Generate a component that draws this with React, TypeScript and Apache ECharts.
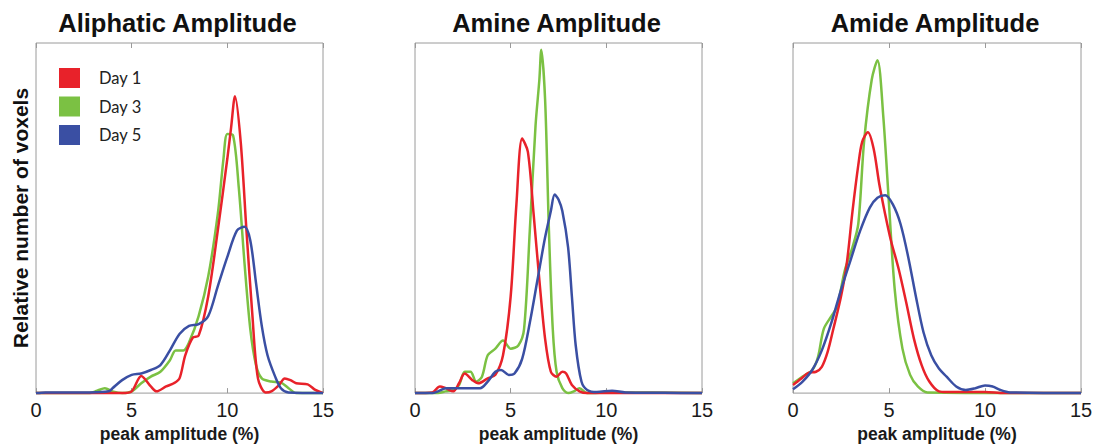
import React, { useEffect, useRef } from "react";
import * as echarts from "echarts";

// ---------- data ----------
const panelTitles = ["Aliphatic Amplitude", "Amine Amplitude", "Amide Amplitude"];
const seriesNames = ["Day 1", "Day 3", "Day 5"];
const seriesColors = ["#e8222a", "#7bc143", "#3a4fa3"];
const xMin = 0;
const xMax = 15;
const xInterval = 5;
const xAxisTitle = "peak amplitude (%)";
const yAxisTitle = "Relative number of voxels";

// Aliphatic
const aliphaticDay1 = [[0,0],[4.5,0],[5.0,0.005],[5.5,0.049],[6.0,0.019],[6.3,0.005],[6.8,0.019],[7.2,0.028],[7.5,0.042],[7.8,0.108],[8.2,0.159],[8.5,0.164],[9.0,0.276],[9.5,0.464],[10.0,0.67],[10.2,0.76],[10.4,0.848],[10.7,0.717],[11.0,0.464],[11.3,0.23],[11.6,0.042],[12.0,0.002],[12.3,0.005],[12.7,0.023],[13.0,0.042],[13.3,0.037],[13.6,0.028],[14.2,0.025],[14.6,0.009],[15,0]];
const aliphaticDay3 = [[0,0],[2.8,0],[3.2,0.007],[3.6,0.014],[4.0,0.005],[4.5,0],[5.0,0.005],[5.5,0.028],[6.0,0.047],[6.5,0.061],[7.0,0.094],[7.3,0.122],[7.7,0.122],[8.0,0.145],[8.5,0.22],[9.0,0.333],[9.5,0.511],[9.8,0.67],[10.0,0.74],[10.3,0.736],[10.6,0.586],[10.9,0.37],[11.2,0.183],[11.5,0.08],[11.8,0.042],[12.3,0.033],[12.8,0.03],[13.2,0.014],[13.6,0],[15,0]];
const aliphaticDay5 = [[0,0],[0.5,0.002],[2.8,0.002],[3.8,0.005],[4.0,0.014],[4.5,0.037],[5.0,0.052],[5.5,0.056],[6.0,0.066],[6.5,0.08],[7.0,0.122],[7.5,0.169],[8.0,0.192],[8.5,0.197],[9.0,0.22],[9.5,0.305],[10.0,0.389],[10.5,0.464],[10.9,0.475],[11.2,0.436],[11.5,0.314],[11.8,0.192],[12.1,0.108],[12.5,0.047],[12.8,0.014],[13.2,0.002],[15,0]];

// Amine
const amineDay1 = [[0,0],[0.9,0.002],[1.3,0.019],[1.6,0.014],[2.0,0.005],[2.3,0.028],[2.6,0.056],[3.0,0.037],[3.3,0.028],[3.8,0.042],[4.2,0.052],[4.6,0.108],[5.0,0.276],[5.3,0.539],[5.6,0.727],[5.9,0.689],[6.2,0.511],[6.5,0.323],[6.8,0.155],[7.1,0.061],[7.4,0.047],[7.7,0.061],[7.9,0.056],[8.2,0.023],[8.6,0.005],[9,0],[15,0]];
const amineDay3 = [[0,0],[1.2,0],[1.6,0.005],[2.0,0.009],[2.3,0.023],[2.6,0.061],[2.9,0.061],[3.2,0.033],[3.5,0.047],[3.8,0.108],[4.2,0.127],[4.6,0.15],[5.0,0.127],[5.4,0.136],[5.7,0.183],[6.0,0.464],[6.3,0.764],[6.5,0.895],[6.6,0.981],[6.8,0.838],[7.0,0.464],[7.2,0.183],[7.4,0.061],[7.7,0.014],[8.0,0],[8.3,0.005],[8.6,0.014],[9.0,0],[10.3,0.002],[15,0]];
const amineDay5 = [[0,0],[0.9,0],[1.2,0.005],[1.6,0.014],[2.0,0.014],[3.4,0.014],[3.8,0.033],[4.2,0.061],[4.5,0.066],[4.9,0.052],[5.2,0.056],[5.6,0.098],[6.0,0.201],[6.4,0.323],[6.8,0.445],[7.1,0.52],[7.3,0.567],[7.5,0.553],[7.7,0.52],[8.0,0.417],[8.2,0.276],[8.4,0.136],[8.7,0.033],[9.0,0.009],[9.5,0.003],[10.3,0.007],[11,0.002],[13,0.001],[15,0]];

// Amide
const amideDay1 = [[0,0.023],[0.4,0.04],[0.8,0.058],[1.2,0.061],[1.5,0.075],[1.8,0.117],[2.1,0.183],[2.5,0.276],[2.8,0.37],[3.1,0.52],[3.4,0.651],[3.6,0.717],[3.9,0.745],[4.2,0.698],[4.5,0.595],[4.8,0.511],[5.1,0.436],[5.5,0.355],[5.9,0.258],[6.3,0.155],[6.7,0.08],[7.1,0.033],[7.6,0.005],[8,0.003],[10,0.003],[11,0],[15,0]];
const amideDay3 = [[0,0.028],[0.5,0.047],[1.0,0.066],[1.3,0.103],[1.6,0.183],[2.0,0.22],[2.3,0.248],[2.7,0.351],[3.1,0.417],[3.4,0.483],[3.7,0.717],[4.1,0.895],[4.4,0.951],[4.7,0.792],[5.0,0.539],[5.3,0.295],[5.7,0.127],[6.1,0.052],[6.5,0.019],[7.0,0.002],[15,0]];
const amideDay5 = [[0,0.011],[0.5,0.033],[1.0,0.066],[1.5,0.122],[2.0,0.201],[2.5,0.295],[3.0,0.38],[3.5,0.464],[4.0,0.53],[4.4,0.558],[4.8,0.565],[5.2,0.539],[5.6,0.483],[6.0,0.389],[6.4,0.276],[6.8,0.173],[7.2,0.108],[7.6,0.07],[8.0,0.047],[8.5,0.019],[9.0,0.009],[9.5,0.014],[10.0,0.022],[10.4,0.019],[10.8,0.009],[11.3,0.002],[15,0]];

const panelData = [
  [aliphaticDay1, aliphaticDay3, aliphaticDay5],
  [amineDay1, amineDay3, amineDay5],
  [amideDay1, amideDay3, amideDay5],
];

// ---------- layout ----------
const gridBoxes = [
  { left: 36, top: 43, width: 287, height: 355 },
  { left: 415, top: 43, width: 287, height: 355 },
  { left: 793, top: 43, width: 288, height: 355 },
];
const drawOrder = [1, 0, 2]; // green, red, blue (blue on top)

function buildOption() {
  const grid = gridBoxes.map((g) => ({
    ...g,
    show: true,
    borderColor: "#9a9a9a",
    borderWidth: 1,
    backgroundColor: "#ffffff",
  }));
  const xAxis: any[] = [];
  const yAxis: any[] = [];
  gridBoxes.forEach((_, i) => {
    xAxis.push({
      type: "value",
      gridIndex: i,
      position: "bottom",
      min: xMin,
      max: xMax,
      interval: xInterval,
      axisLine: { show: false },
      axisTick: { show: true, inside: true, length: 5, lineStyle: { color: "#9a9a9a" } },
      splitLine: { show: false },
      axisLabel: {
        show: true,
        margin: 7,
        fontSize: 20,
        fontFamily: "Liberation Sans",
        color: "#1a1a1a",
      },
      name: xAxisTitle,
      nameLocation: "middle",
      nameGap: 26,
      nameTextStyle: {
        fontSize: 17.5,
        fontWeight: "bold",
        fontFamily: "Liberation Sans",
        color: "#1a1a1a",
      },
    });
    xAxis.push({
      type: "value",
      gridIndex: i,
      position: "top",
      min: xMin,
      max: xMax,
      interval: xInterval,
      axisLine: { show: false },
      axisTick: { show: true, inside: true, length: 5, lineStyle: { color: "#9a9a9a" } },
      splitLine: { show: false },
      axisLabel: { show: false },
    });
    yAxis.push({
      type: "value",
      gridIndex: i,
      min: 0,
      max: 1,
      axisLine: { show: false },
      axisTick: { show: false },
      axisLabel: { show: false },
      splitLine: { show: false },
    });
  });

  const series: any[] = [];
  panelData.forEach((days, i) => {
    drawOrder.forEach((d) => {
      series.push({
        type: "line",
        name: seriesNames[d],
        xAxisIndex: 2 * i,
        yAxisIndex: i,
        data: days[d],
        showSymbol: false,
        symbol: "none",
        smooth: 0.3,
        clip: false,
        lineStyle: { width: 2.5, color: seriesColors[d] },
        itemStyle: { color: seriesColors[d] },
      });
    });
  });

  const graphic: any[] = panelTitles.map((t, i) => ({
    type: "text",
    x: gridBoxes[i].left + gridBoxes[i].width / 2 - 2,
    y: 23,
    style: {
      text: t,
      fontSize: 25.5,
      fontWeight: "bold",
      fontFamily: "Liberation Sans",
      fill: "#111111",
      align: "center",
      verticalAlign: "middle",
    },
  }));
  graphic.push({
    type: "text",
    x: 20,
    y: 218,
    rotation: Math.PI / 2,
    style: {
      text: yAxisTitle,
      fontSize: 21,
      fontWeight: "bold",
      fontFamily: "Liberation Sans",
      fill: "#111111",
      align: "center",
      verticalAlign: "middle",
    },
  });

  return {
    animation: false,
    backgroundColor: "#ffffff",
    grid,
    xAxis,
    yAxis,
    series,
    graphic,
    legend: {
      data: seriesNames,
      orient: "vertical",
      left: 59,
      top: 68,
      padding: 0,
      itemWidth: 21,
      itemHeight: 20,
      itemGap: 8.5,
      icon: "rect",
      selectedMode: false,
      textStyle: {
        fontSize: 16.5,
        fontFamily: "Lato",
        color: "#222222",
        padding: [0, 0, 0, 14],
      },
    },
  };
}

export default function App() {
  const ref = useRef<HTMLDivElement>(null);
  useEffect(() => {
    if (!ref.current) return;
    const chart = echarts.init(ref.current, undefined, { renderer: "svg" });
    chart.setOption(buildOption() as any);
    return () => chart.dispose();
  }, []);
  return (
    <div
      ref={ref}
      style={{ position: "absolute", left: 0, top: 0, width: 1097, height: 448, background: "#fff" }}
    />
  );
}
